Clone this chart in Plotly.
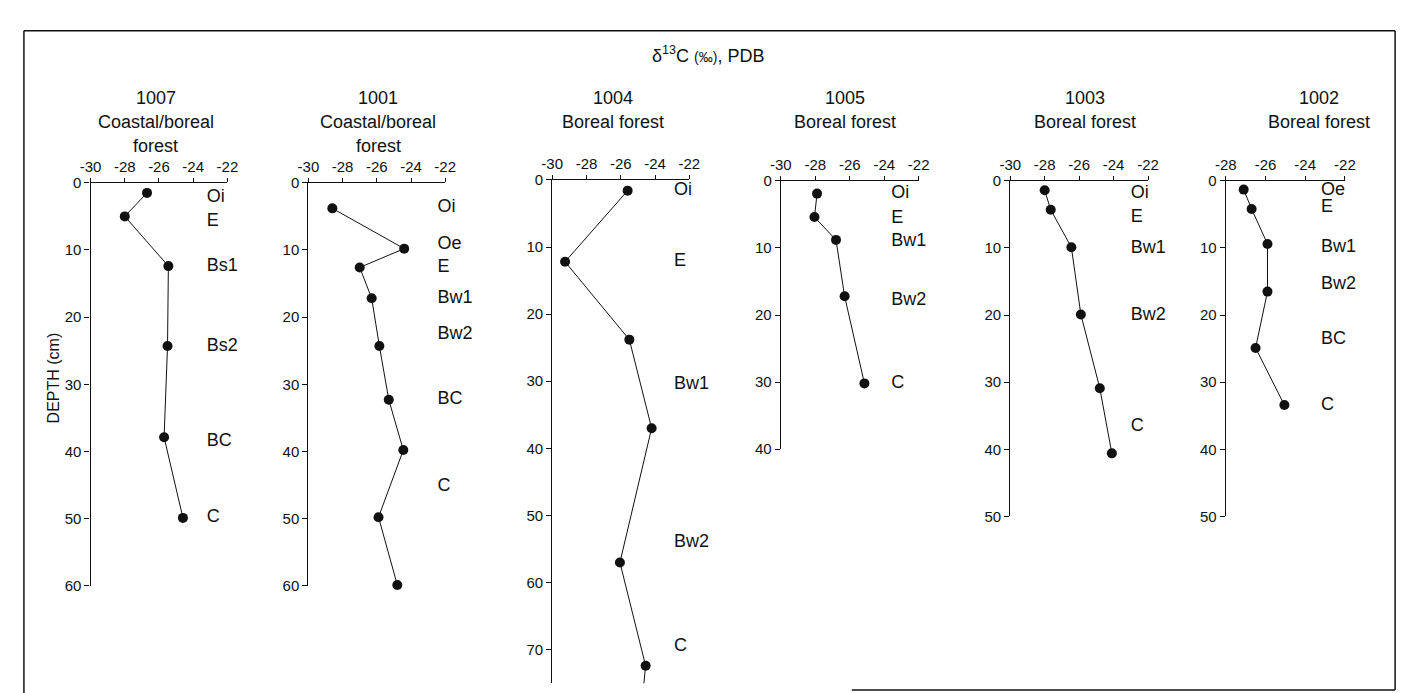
import plotly.graph_objects as go

W, H = 1405, 693

# ---------------- data ----------------
site_ids = ["1007", "1001", "1004", "1005", "1003", "1002"]
site_types = [["Coastal/boreal", "forest"], ["Coastal/boreal", "forest"],
              ["Boreal forest"], ["Boreal forest"], ["Boreal forest"], ["Boreal forest"]]

d13c_1007 = [-26.7, -28.0, -25.45, -25.5, -25.7, -24.6]
depth_1007 = [1.5, 5.0, 12.4, 24.3, 37.9, 49.9]
hz_1007 = ["Oi", "E", "Bs1", "Bs2", "BC", "C"]
hz_depth_1007 = [2.2, 5.7, 12.4, 24.4, 38.5, 49.9]

d13c_1001 = [-28.6, -24.4, -27.0, -26.3, -25.85, -25.3, -24.45, -25.9, -24.8]
depth_1001 = [3.8, 9.8, 12.6, 17.2, 24.3, 32.3, 39.8, 49.8, 59.9]
hz_1001 = ["Oi", "Oe", "E", "Bw1", "Bw2", "BC", "C"]
hz_depth_1001 = [3.7, 9.2, 12.6, 17.2, 22.6, 32.3, 45.3]

d13c_1004 = [-25.6, -29.25, -25.5, -24.2, -26.05, -24.55, -24.85]
depth_1004 = [1.6, 12.2, 23.8, 37.0, 57.0, 72.4, 80.0]
hz_1004 = ["Oi", "E", "Bw1", "Bw2", "C"]
hz_depth_1004 = [1.6, 12.2, 30.5, 54.0, 69.5]

d13c_1005 = [-27.9, -28.05, -26.8, -26.3, -25.15]
depth_1005 = [1.9, 5.4, 8.8, 17.2, 30.2]
hz_1005 = ["Oi", "E", "Bw1", "Bw2", "C"]
hz_depth_1005 = [1.9, 5.6, 9.1, 17.8, 30.2]

d13c_1003 = [-28.0, -27.65, -26.45, -25.9, -24.8, -24.1]
depth_1003 = [1.4, 4.3, 9.9, 19.9, 30.9, 40.6]
hz_1003 = ["Oi", "E", "Bw1", "Bw2", "C"]
hz_depth_1003 = [1.9, 5.4, 10.1, 20.1, 36.6]

d13c_1002 = [-27.1, -26.7, -25.9, -25.9, -26.5, -25.05]
depth_1002 = [1.3, 4.2, 9.4, 16.5, 24.9, 33.4]
hz_1002 = ["Oe", "E", "Bw1", "Bw2", "BC", "C"]
hz_depth_1002 = [1.4, 4.0, 9.9, 15.4, 23.6, 33.4]

x_ranges = [[-30, -22], [-30, -22], [-30, -22], [-30, -22], [-30, -22], [-28, -22]]
depth_max = [60, 60, 75, 40, 50, 50]
x_tickvals = [-30, -28, -26, -24, -22]
x_ticktext = ["-30", "-28", "-26", "-24", "-22"]
y_tickvals = [0, 10, 20, 30, 40, 50, 60, 70]

series = [
    (d13c_1007, depth_1007, hz_1007, hz_depth_1007),
    (d13c_1001, depth_1001, hz_1001, hz_depth_1001),
    (d13c_1004, depth_1004, hz_1004, hz_depth_1004),
    (d13c_1005, depth_1005, hz_1005, hz_depth_1005),
    (d13c_1003, depth_1003, hz_1003, hz_depth_1003),
    (d13c_1002, depth_1002, hz_1002, hz_depth_1002),
]

# ---------------- layout geometry (pixels) ----------------
# x_left, x_right, y_top, y_bottom of each panel's plotting box
boxes = [
    (72.7, 211.7, 170, 583),
    (294, 433, 170, 583),
    (541.7, 681, 167, 683),
    (774, 914, 168, 443),
    (1007, 1147, 168, 512),
    (1226, 1347, 168, 512),
]
label_x = [-23.2, -22.45, -22.9, -23.6, -23.0, -23.2]
title_cx = [139, 365, 603, 839, 1083, 1321]
clip = [False, False, True, False, False, False]

INK = "#111111"
FONT = "Liberation Sans, Arial, sans-serif"
NARROW = "Liberation Sans Narrow, Arial Narrow, Liberation Sans, sans-serif"

fig = go.Figure()
layout = dict(
    width=W, height=H,
    margin=dict(l=0, r=0, t=0, b=0),
    paper_bgcolor="white", plot_bgcolor="white",
    showlegend=False,
    font=dict(family=FONT, color=INK),
)

annotations = []
for i, ((xs, ys, hz, hzd), box, xr, dmax) in enumerate(zip(series, boxes, x_ranges, depth_max)):
    n = i + 1
    xa = "x" if n == 1 else f"x{n}"
    ya = "y" if n == 1 else f"y{n}"
    xl, xr_px, yt, yb = box
    tv = [v for v in x_tickvals if xr[0] <= v <= xr[1]]
    tt = [t for v, t in zip(x_tickvals, x_ticktext) if xr[0] <= v <= xr[1]]
    layout["xaxis" if n == 1 else f"xaxis{n}"] = dict(
        domain=[xl / W, xr_px / W], range=xr, anchor=ya, side="top",
        showline=True, linecolor=INK, linewidth=1.3, ticks="outside", ticklen=4,
        tickwidth=1, tickcolor=INK, tickvals=tv, ticktext=tt,
        showgrid=False, zeroline=False, tickfont=dict(family=NARROW, size=15, color=INK),
        fixedrange=True,
    )
    layout["yaxis" if n == 1 else f"yaxis{n}"] = dict(
        domain=[1 - yb / H, 1 - yt / H], range=[dmax, 0], anchor=xa,
        showline=True, linecolor=INK, linewidth=1.3, ticks="outside", ticklen=5,
        tickwidth=1, tickcolor=INK, tickvals=[v for v in y_tickvals if v <= dmax],
        showgrid=False, zeroline=False, tickfont=dict(family=NARROW, size=15, color=INK),
        fixedrange=True,
    )
    fig.add_trace(go.Scatter(
        x=xs, y=ys, xaxis=xa, yaxis=ya, mode="lines+markers",
        line=dict(color=INK, width=1), marker=dict(color=INK, size=10),
        cliponaxis=clip[i], hoverinfo="skip",
    ))
    fig.add_trace(go.Scatter(
        x=[label_x[i]] * len(hz), y=hzd, xaxis=xa, yaxis=ya, mode="text",
        text=hz, textposition="middle right",
        textfont=dict(family=FONT, size=18, color=INK),
        cliponaxis=False, hoverinfo="skip",
    ))
    lines = [site_ids[i]] + site_types[i]
    for k, txt in enumerate(lines):
        annotations.append(dict(
            xref="paper", yref="paper", x=title_cx[i] / W, y=1 - (83 + 24.5 * k) / H,
            text=txt, showarrow=False, xanchor="center", yanchor="middle",
            font=dict(family=FONT, size=18, color=INK),
        ))

annotations.append(dict(
    xref="paper", yref="paper", x=700 / W, y=1 - 38 / H,
    text="δ<sup>13</sup>C <span style='font-size:14px'>(‰)</span>, PDB",
    showarrow=False, xanchor="center", yanchor="middle",
    font=dict(family=FONT, size=18, color=INK),
))
annotations.append(dict(
    xref="paper", yref="paper", x=35 / W, y=1 - 370 / H,
    text="DEPTH (cm)", textangle=-90, showarrow=False,
    xanchor="center", yanchor="middle",
    font=dict(family=NARROW, size=16, color=INK),
))
layout["annotations"] = annotations

# frame of the figure (partial bottom edge as in the scan)
frame = [
    (5, 14, 1398, 14), (5, 14, 5, 693), (1398, 14, 1398, 690), (846, 690, 1398, 690),
]
layout["shapes"] = [
    dict(type="line", xref="paper", yref="paper", x0=a / W, y0=1 - b / H, x1=c / W, y1=1 - d / H,
         line=dict(color=INK, width=1.5))
    for a, b, c, d in frame
]

fig.update_layout(**layout)
fig.write_html("out.html")
